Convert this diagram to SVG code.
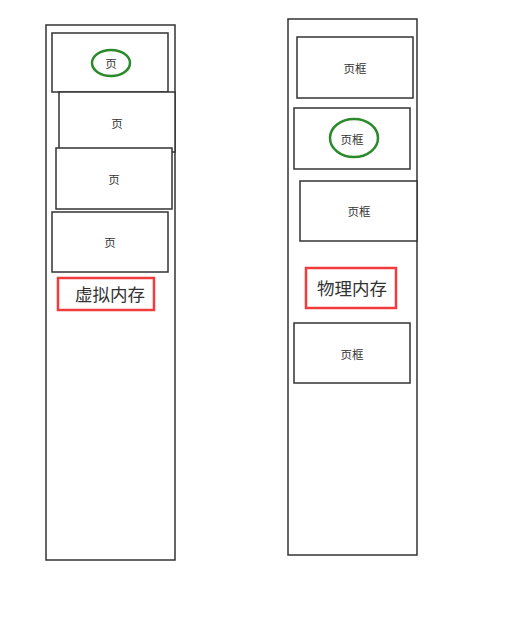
<svg xmlns="http://www.w3.org/2000/svg" width="519" height="625" viewBox="0 0 519 625">
<style>
.outer{fill:#fff;stroke:#333;stroke-width:1.5}
.box{fill:#fff;stroke:#333;stroke-width:1.5}
.mark{fill:none;stroke:#2a8a2a;stroke-width:2.5}
.hl{fill:none;stroke:#f03c3c;stroke-width:2.5}
.t{font-family:"Noto Sans CJK SC","Liberation Sans",sans-serif;font-size:11.5px;fill:#333;text-anchor:middle;dominant-baseline:central}
.lbl{font-family:"Noto Sans CJK SC","Liberation Sans",sans-serif;font-size:17.5px;fill:#333;text-anchor:middle;dominant-baseline:central}
</style>
<rect width="519" height="625" fill="#fff"/>
<g id="virtual-memory">
<rect class="outer" x="46" y="25" width="129" height="535"/>
</g>
<g id="physical-memory">
<rect class="outer" x="288" y="19" width="129" height="536"/>
</g>
<g id="page1"><rect class="box" x="52" y="33" width="116" height="59"/><ellipse class="mark" cx="111" cy="63" rx="19" ry="13"/><text class="t" x="111" y="63">页</text></g>
<g id="page2"><rect class="box" x="59" y="92" width="116" height="60"/><text class="t" x="117" y="123">页</text></g>
<g id="page3"><rect class="box" x="56" y="148" width="116" height="61"/><text class="t" x="114" y="179">页</text></g>
<g id="page4"><rect class="box" x="52" y="212" width="116" height="60"/><text class="t" x="110" y="242">页</text></g>
<g id="label-virtual"><rect class="hl" x="58" y="278" width="96" height="32"/><text class="lbl" x="110" y="293">虚拟内存</text></g>
<g id="frame1"><rect class="box" x="297" y="37" width="116" height="61"/><text class="t" x="355" y="68">页框</text></g>
<g id="frame2"><rect class="box" x="294" y="108" width="116" height="61"/><ellipse class="mark" cx="354" cy="138" rx="24" ry="19"/><text class="t" x="352" y="139">页框</text></g>
<g id="frame3"><rect class="box" x="300" y="181" width="117" height="60"/><text class="t" x="359" y="211">页框</text></g>
<g id="label-physical"><rect class="hl" x="306" y="268" width="90" height="40"/><text class="lbl" x="352" y="287">物理内存</text></g>
<g id="frame4"><rect class="box" x="294" y="323" width="116" height="60"/><text class="t" x="352" y="354">页框</text></g>
<g id="connectors"></g>
</svg>
